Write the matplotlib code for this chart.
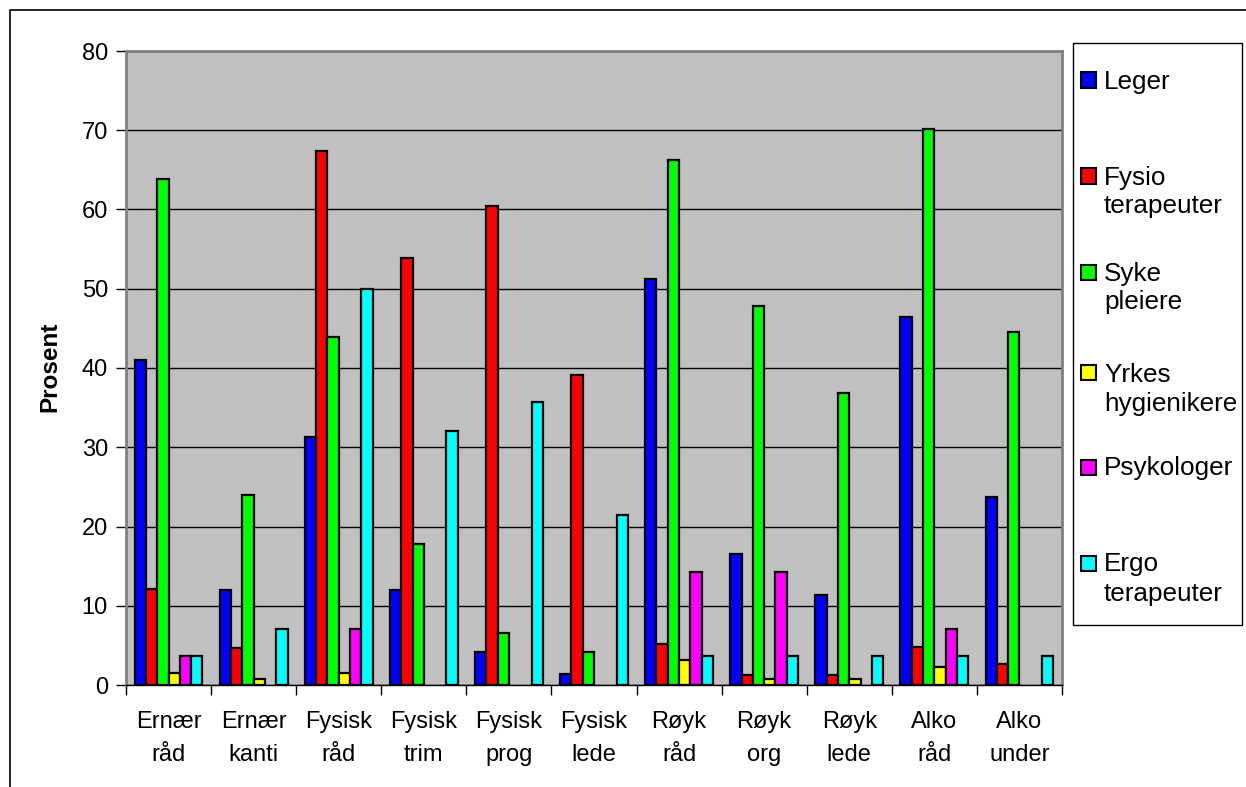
import numpy as np
import matplotlib
matplotlib.use("Agg")
import matplotlib.pyplot as plt
from matplotlib.patches import Rectangle

plt.rcParams['font.family'] = ['Liberation Sans', 'DejaVu Sans']

categories = ["Ernær\nråd", "Ernær\nkanti", "Fysisk\nråd", "Fysisk\ntrim",
              "Fysisk\nprog", "Fysisk\nlede", "Røyk\nråd", "Røyk\norg",
              "Røyk\nlede", "Alko\nråd", "Alko\nunder"]

nan = np.nan
leger = [41.0, 12.0, 31.3, 12.0, 4.2, 1.4, 51.2, 16.5, 11.3, 46.4, 23.7]
fysio = [12.1, 4.7, 67.4, 53.9, 60.4, 39.1, 5.2, 1.3, 1.3, 4.8, 2.6]
syke = [63.8, 24.0, 43.9, 17.8, 6.6, 4.2, 66.2, 47.8, 36.9, 70.1, 44.6]
yrkes = [1.5, 0.8, 1.5, nan, nan, nan, 3.1, 0.8, 0.8, 2.3, nan]
psyk = [3.6, nan, 7.1, nan, nan, nan, 14.3, 14.3, nan, 7.1, nan]
ergo = [3.6, 7.1, 50.0, 32.1, 35.7, 21.4, 3.6, 3.6, 3.6, 3.6, 3.6]

series = [leger, fysio, syke, yrkes, psyk, ergo]
labels = ["Leger", "Fysio\nterapeuter", "Syke\npleiere",
          "Yrkes\nhygienikere", "Psykologer", "Ergo\nterapeuter"]
colors = ["#0000FF", "#FF0000", "#00FF00", "#FFFF00", "#FF00FF", "#00FFFF"]

W, H = 1246, 787
fig = plt.figure(figsize=(W / 100, H / 100), dpi=100)
fig.patch.set_facecolor("white")

# plot area in pixel terms
ax = fig.add_axes([126 / W, 102 / H, 936 / W, 634 / H])
ax.set_facecolor("#C0C0C0")

n = len(categories)
bw = 0.133
base = np.arange(n) + 0.5
for k, (vals, col) in enumerate(zip(series, colors)):
    xs = base + (k - 2.5) * bw
    ax.bar(xs, vals, width=bw, color=col, edgecolor="black", linewidth=1.6,
           zorder=3)

ax.set_xlim(0, n)
ax.set_ylim(0, 80)
ax.set_yticks(np.arange(0, 81, 10))
ax.tick_params(axis="y", direction="out", length=7, width=1, labelsize=17,
               pad=6, colors="black")
ax.yaxis.grid(True, color="black", linewidth=1, zorder=1)
ax.set_axisbelow(True)

ax.set_xticks(np.arange(0, n + 1))
ax.set_xticklabels([])
ax.set_xticks(base, minor=True)
ax.set_xticklabels(categories, minor=True, fontsize=17)
ax.tick_params(axis="x", which="major", direction="out", length=7, width=1)
ax.tick_params(axis="x", which="minor", length=0, pad=19)
for lbl in ax.get_xticklabels(minor=True):
    lbl.set_linespacing(1.6)

for side in ("left", "top", "right"):
    ax.spines[side].set_color("#808080")
    ax.spines[side].set_linewidth(2)
ax.spines["bottom"].set_color("black")
ax.spines["bottom"].set_linewidth(1)
ax.spines["bottom"].set_zorder(4)

fig.text(50 / W, 1 - 367 / H, "Prosent", rotation=90, fontsize=17.5,
         fontweight="bold", ha="center", va="center")

# outer frame
fig.patches.append(Rectangle((10 / W, -0.05), 1.0, 1 - 10 / H + 0.05,
                             transform=fig.transFigure, fill=False,
                             edgecolor="black", linewidth=1.2))

# legend box
lx0, lx1, ly0, ly1 = 1073, 1242, 43, 625
fig.patches.append(Rectangle((lx0 / W, 1 - ly1 / H), (lx1 - lx0) / W,
                             (ly1 - ly0) / H, transform=fig.transFigure,
                             facecolor="white", edgecolor="black",
                             linewidth=1))
entry_y = [80, 176, 272, 373, 467, 563]
for yc, lab, col in zip(entry_y, labels, colors):
    fig.patches.append(Rectangle((1081 / W, 1 - (yc + 7.5) / H), 15 / W,
                                 15 / H, transform=fig.transFigure,
                                 facecolor=col, edgecolor="black",
                                 linewidth=1.5))
    for i, line in enumerate(lab.split("\n")):
        fig.text(1104 / W, 1 - (yc + 8.5 + i * 29) / H, line, fontsize=18.8,
                 ha="left", va="baseline")

fig.savefig("out.png", dpi=100)
